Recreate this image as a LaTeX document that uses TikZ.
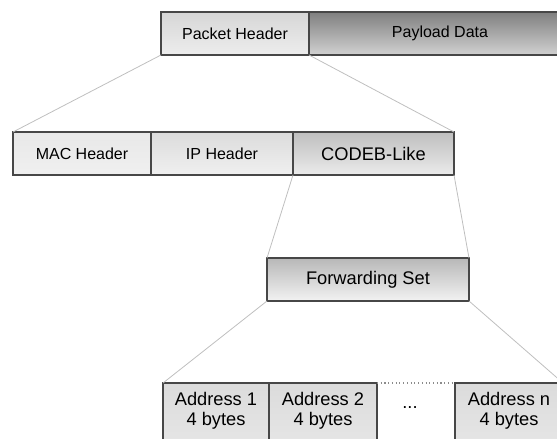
\documentclass[tikz,border=0pt]{standalone}
\usepackage{fontspec}
\setmainfont{Liberation Sans}
\usetikzlibrary{positioning}

\tikzset{
  seg/.style={draw=black!72, line width=1pt, inner sep=0pt, outer sep=0pt,
    minimum height=32.25pt, font=\fontsize{12}{14.4}\selectfont},
  big/.style={font=\fontsize{13.7}{15}\selectfont},
  w/.style={minimum width=#1*0.75pt},
  shade/.style 2 args={top color=#1, bottom color=#2},
  addr/.style={seg, big, align=center, inner ysep=7pt, text depth=40pt, shade={black!14}{black!7}},
  proj/.style={draw=black!25, line width=0.6pt},
}

\begin{document}
\begin{tikzpicture}[x=0.75pt,y=-0.75pt]
  \useasboundingbox (0,0) rectangle (557,439);
  \clip (0,0) rectangle (557,439);
  % packet
  \node[seg, w=148, anchor=north west, shade={black!16}{black!7}] (pkt) at (161,12) {Packet Header};
  \node[seg, w=262, right=0pt of pkt, shade={black!50}{black!18}] (payload) {Payload Data};
  % header fields
  \node[seg, w=138, anchor=north west, shade={black!9}{black!6}] (mac) at (13,132) {MAC Header};
  \node[seg, w=142, right=0pt of mac, shade={black!14}{black!6}] (ip) {IP Header};
  \node[seg, big, w=161, right=0pt of ip, shade={black!25}{black!8}] (codeb) {CODEB-Like};
  % forwarding set
  \node[seg, big, w=202, anchor=north west, shade={black!28}{black!5}] (fwd) at (267,258) {Forwarding Set};
  % addresses
  \node[addr, w=106, anchor=north west] (addr1) at (163,383) {Address 1\\4 bytes};
  \node[addr, w=108, right=0pt of addr1] (addr2) {Address 2\\4 bytes};
  \node[addr, w=108, anchor=north west] (addrn) at (455,383) {Address n\\4 bytes};
  \node[big] (dots) at (410,408) {...};
  \draw[black!45, line width=0.8pt, dotted] (addr2.north east) -- (addrn.north west);

  \draw[proj] (pkt.south west) -- (mac.north west);
  \draw[proj] (pkt.south east) -- (codeb.north east);
  \draw[proj] (codeb.south west) -- (fwd.north west);
  \draw[proj] (codeb.south east) -- (fwd.north east);
  \draw[proj] (fwd.south west) -- (addr1.north west);
  \draw[proj] (fwd.south east) -- (addrn.north east);
\end{tikzpicture}
\end{document}
